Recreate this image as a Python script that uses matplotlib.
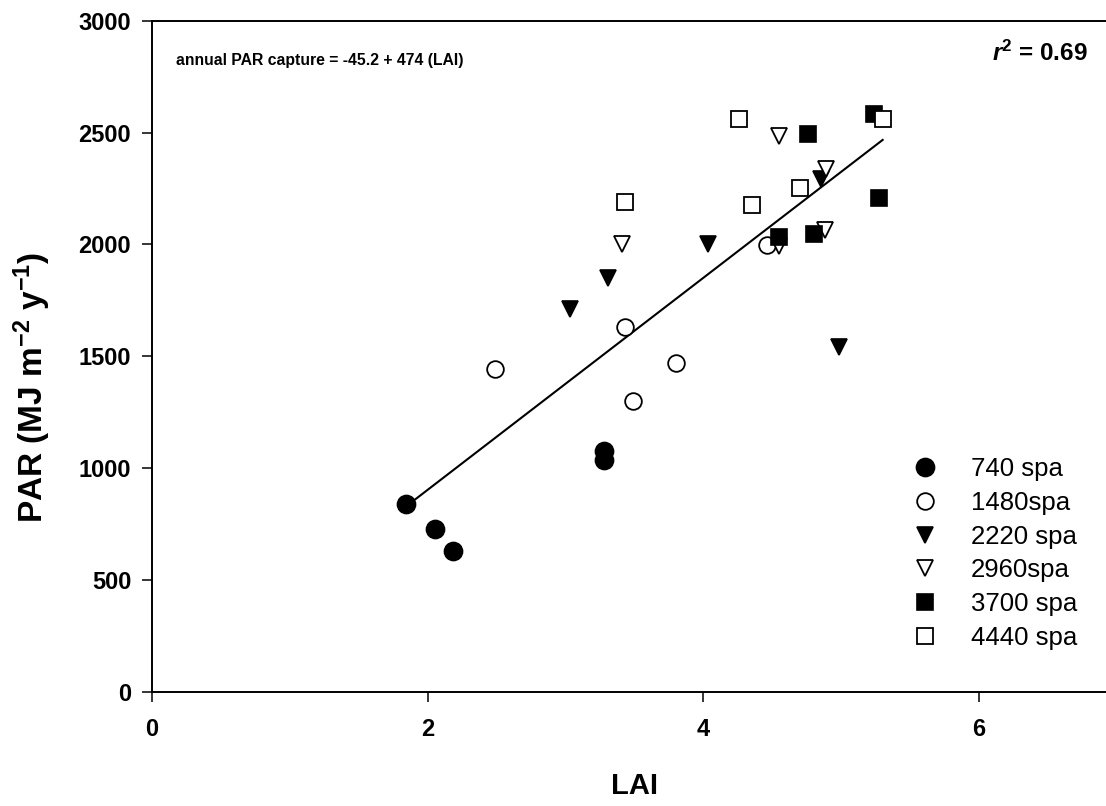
import matplotlib
matplotlib.use("Agg")
import matplotlib.pyplot as plt
import numpy as np

plt.rcParams['font.family'] = ['Liberation Sans', 'DejaVu Sans']
plt.rcParams['mathtext.fontset'] = 'custom'
plt.rcParams['mathtext.rm'] = 'Liberation Sans'
plt.rcParams['mathtext.bf'] = 'Liberation Sans:bold'
plt.rcParams['mathtext.it'] = 'Liberation Sans:italic'
plt.rcParams['mathtext.bfit'] = 'Liberation Sans:italic:bold'

# === data (LAI, PAR) ===
lai_740 = [1.84, 2.05, 2.18, 3.28, 3.28]
par_740 = [840, 727, 627, 1078, 1038]

lai_1480 = [2.49, 3.43, 3.80, 3.49, 4.46]
par_1480 = [1442, 1630, 1469, 1299, 1997]

lai_2220 = [3.03, 3.31, 4.03, 4.85, 4.98]
par_2220 = [1711, 1850, 2002, 2291, 1540]

lai_2960 = [3.41, 4.55, 4.89, 4.88, 4.55]
par_2960 = [2002, 2485, 2336, 2063, 1993]

lai_3700 = [4.76, 5.24, 5.27, 4.55, 4.80]
par_3700 = [2493, 2585, 2206, 2033, 2048]

lai_4440 = [4.26, 5.30, 4.35, 4.70, 3.43]
par_4440 = [2560, 2560, 2176, 2254, 2190]

intercept = -45.2
slope = 474

W, H = 1106, 806
fig = plt.figure(figsize=(W/100, H/100), dpi=100)
ax = fig.add_axes([152/W, (H-691.7)/H, (W-152)/W, (691.7-20.7)/H])

ax.plot(lai_740, par_740, 'o', ms=13, mfc='black', mec='black', mew=1.2, ls='none', label='740 spa')
ax.plot(lai_1480, par_1480, 'o', ms=12, mfc='white', mec='black', mew=1.3, ls='none', label='1480spa')
ax.plot(lai_2220, par_2220, 'v', ms=12, mfc='black', mec='black', mew=1.2, ls='none', label='2220 spa')
ax.plot(lai_2960, par_2960, 'v', ms=12, mfc='white', mec='black', mew=1.3, ls='none', label='2960spa')
ax.plot(lai_3700, par_3700, 's', ms=11, mfc='black', mec='black', mew=1.2, ls='none', label='3700 spa')
ax.plot(lai_4440, par_4440, 's', ms=11, mfc='white', mec='black', mew=1.3, ls='none', label='4440 spa')

# regression line over data range
all_lai = np.concatenate([lai_740, lai_1480, lai_2220, lai_2960, lai_3700, lai_4440])
xs = np.array([all_lai.min(), all_lai.max()])
ax.plot(xs, intercept + slope * xs, color='black', lw=1.5, zorder=1)

ax.set_xlim(0, 6.92)
ax.set_ylim(0, 3000)
ax.set_xticks([0, 2, 4, 6])
ax.set_yticks([0, 500, 1000, 1500, 2000, 2500, 3000])
ax.tick_params(direction='out', length=7, width=1.1, labelsize=17)
ax.tick_params(axis='x', pad=12)
ax.tick_params(axis='y', pad=8)
for lab in ax.get_xticklabels() + ax.get_yticklabels():
    lab.set_fontweight('bold')

ax.spines['right'].set_visible(False)
for s in ['left', 'bottom', 'top']:
    ax.spines[s].set_linewidth(1.4)

ax.set_xlabel('LAI', fontsize=21, fontweight='bold')
ax.xaxis.set_label_coords(0.506, -0.12)
ax.set_ylabel(r'PAR (MJ m$^{\mathbf{-2}}$ y$^{\mathbf{-1}}$)', fontsize=24, fontweight='bold')
ax.yaxis.set_label_coords(-0.104, 0.454)

ax.text(0.025, 0.94, 'annual PAR capture = -45.2 + 474 (LAI)', transform=ax.transAxes,
        fontsize=11.3, fontweight='bold', ha='left', va='center')
ax.text(0.981, 0.951, r'$\mathbfit{r}^{\mathbf{2}}$ = 0.69', transform=ax.transAxes,
        fontsize=17.5, fontweight='bold', ha='right', va='center')

ax.legend(loc='upper left', bbox_to_anchor=(912/W, 1 - 457/H), bbox_transform=fig.transFigure,
          frameon=False, fontsize=18.5, borderpad=0, borderaxespad=0,
          handletextpad=1.3, labelspacing=0.38, handlelength=1.0)

fig.savefig('out.png', dpi=100)
